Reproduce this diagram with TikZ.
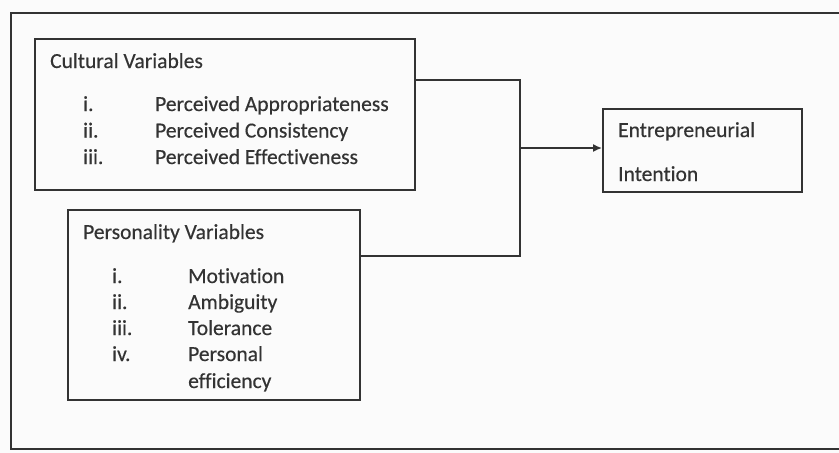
\documentclass[tikz,border=0pt]{standalone}
\usepackage{fontspec}
\setmainfont{Carlito}[FakeBold=0.4, Ligatures={NoCommon}]
\usetikzlibrary{arrows.meta}
\definecolor{ink}{HTML}{333333}
\definecolor{paper}{HTML}{FBFBFB}
\tikzset{
  box/.style={draw=ink, line width=1.8pt, rectangle, inner sep=0pt},
  label/.style={anchor=base west, inner sep=0pt, text=ink, font=\fontsize{21.5}{24}\selectfont},
  link/.style={draw=ink, line width=1.8pt},
}
\begin{document}
\begin{tikzpicture}[x=1pt,y=-1pt]
  % page
  \fill[paper] (0,0) rectangle (839,453);
  \useasboundingbox (0,0) rectangle (839,453);
  % outer frame (runs off the right side)
  \draw[ink, line width=1.8pt] (860,13) -- (11,13) -- (11,449) -- (860,449);

  % boxes
  \node[box, minimum width=380pt, minimum height=151pt] (cult) at (225,114.5) {};
  \node[box, minimum width=292pt, minimum height=190pt] (pers) at (214,305) {};
  \node[box, minimum width=199pt, minimum height=83pt] (ent) at (702.5,150.5) {};

  % cultural variables
  \node[label] (ct) at (50,68) {Cultural Variables};
  \node[label] (c1n) at (83,111) {i.};
  \node[label] (c1) at (155,111) {Perceived Appropriateness};
  \node[label] (c2n) at (83,137.5) {ii.};
  \node[label] (c2) at (155,137.5) {Perceived Consistency};
  \node[label] (c3n) at (83,164) {iii.};
  \node[label] (c3) at (155,164) {Perceived Effectiveness};

  % personality variables
  \node[label] (pt) at (83,239) {Personality Variables};
  \node[label] (p1n) at (112,283) {i.};
  \node[label] (p1) at (188,283) {Motivation};
  \node[label] (p2n) at (112,309) {ii.};
  \node[label] (p2) at (188,309) {Ambiguity};
  \node[label] (p3n) at (112,335) {iii.};
  \node[label] (p3) at (188,335) {Tolerance};
  \node[label] (p4n) at (112,361) {iv.};
  \node[label] (p4) at (188,361) {Personal};
  \node[label] (p5) at (188,388) {efficiency};

  % outcome
  \node[label] (e1) at (618,137) {Entrepreneurial};
  \node[label] (e2) at (618,181) {Intention};

  % connectors
  \coordinate (jt) at (520,80);
  \coordinate (jb) at (520,256);
  \coordinate (jm) at (520,148);
  \draw[link] (cult.east |- jt) -- (jt) -- (jb) -- (pers.east |- jb);
  \draw[link, -{Latex[length=9pt,width=8pt]}] (jm) -- (ent.west |- jm);
\end{tikzpicture}
\end{document}
